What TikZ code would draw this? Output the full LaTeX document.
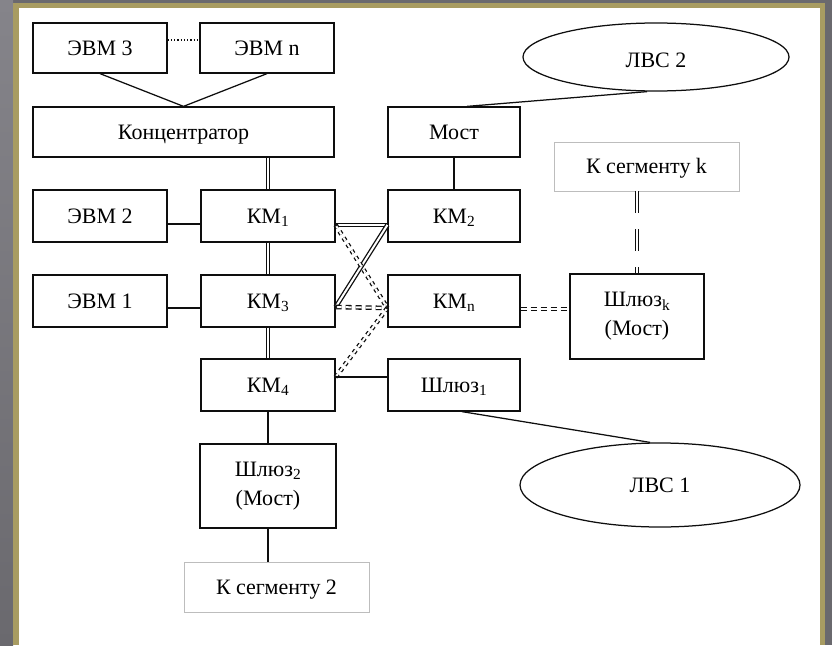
\documentclass[tikz,border=0pt]{standalone}
\usepackage{fontspec}
\setmainfont{Liberation Serif}
\definecolor{bggray}{HTML}{6A696E}
\definecolor{bglight}{HTML}{85848A}
\definecolor{gold}{HTML}{A89C62}
\definecolor{ink}{HTML}{0E0E0E}
\definecolor{faint}{HTML}{BDBDBD}
\begin{document}
\begin{tikzpicture}[x=1pt,y=-1pt,
  frame/.style={draw=ink, line width=1.25pt, rectangle, inner sep=0pt, align=center,
    font=\fontsize{22}{29}\selectfont},
  box/.style={frame, text height=17pt, text depth=3pt},
  segbox/.style={box, draw=faint, line width=0.8pt},
  lan/.style={draw=ink, line width=1.25pt, ellipse, inner sep=0pt,
    font=\fontsize{22}{29}\selectfont, text height=17pt, text depth=3pt},
  wire/.style={draw=ink, line width=1.25pt},
  dwire/.style={draw=ink, line width=1.3pt, double=white, double distance=2pt},
  ddash/.style={dwire, dash pattern=on 3.5pt off 4pt},
  dhdash/.style={dwire, dash pattern=on 6pt off 4pt},
  dldash/.style={dwire, dash pattern=on 22pt off 16pt},
  jdot/.style={fill=ink}
]
\usetikzlibrary{shapes.geometric}
% background
\fill[bggray] (0,0) rectangle (832,645);
\shade[top color=bglight, bottom color=bggray] (0,0) rectangle (13,645);
\fill[gold] (13,3) rectangle (825,645);
\fill[white] (19,8) rectangle (820,645);
\useasboundingbox (0,0) rectangle (832,645);

% nodes
\node[box, minimum width=134pt, minimum height=50pt] (evm3) at (100,48) {ЭВМ 3};
\node[box, minimum width=134pt, minimum height=50pt] (evmn) at (267,48) {ЭВМ n};
\node[box, minimum width=301pt, minimum height=50pt] (konc) at (183.5,132) {Концентратор};
\node[box, minimum width=132pt, minimum height=50pt] (most) at (454,132) {Мост};
\node[lan, minimum width=266pt, minimum height=68pt, text height=21pt, text depth=-1pt] (lvs2) at (656,57) {ЛВС 2};
\node[segbox, minimum width=185pt, minimum height=49pt] (segk) at (646.5,166.5) {К сегменту k};

\node[box, minimum width=134pt, minimum height=52pt] (evm2) at (100,216) {ЭВМ 2};
\node[box, minimum width=134pt, minimum height=52pt] (km1) at (268,216) {КМ\textsubscript{1}};
\node[box, minimum width=132pt, minimum height=52pt] (km2) at (454,216) {КМ\textsubscript{2}};

\node[box, minimum width=134pt, minimum height=52pt] (evm1) at (100,301) {ЭВМ 1};
\node[box, minimum width=134pt, minimum height=52pt] (km3) at (268,301) {КМ\textsubscript{3}};
\node[box, minimum width=132pt, minimum height=52pt] (kmn) at (454,301) {КМ\textsubscript{n}};
\node[frame, minimum width=134pt, minimum height=85pt] (shk) at (637,316.5) {Шлюз\textsubscript{k}\\(Мост)};

\node[box, minimum width=134pt, minimum height=52pt] (km4) at (268,385) {КМ\textsubscript{4}};
\node[box, minimum width=132pt, minimum height=52pt] (sh1) at (454,385) {Шлюз\textsubscript{1}};
\node[lan, minimum width=280pt, minimum height=84pt] (lvs1) at (660,485) {ЛВС 1};

\node[frame, minimum width=136pt, minimum height=84pt] (sh2) at (268,486) {Шлюз\textsubscript{2}\\(Мост)};
\node[segbox, minimum width=185pt, minimum height=50pt] (seg2) at (276.5,587) {К сегменту 2};

% junction coordinates
\coordinate (p1) at ([yshift=-9pt]km1.east);
\coordinate (q2) at ([yshift=-9pt]km2.west);
\coordinate (p3) at ([yshift=-6pt]km3.east);
\coordinate (qn) at ([yshift=-7pt]kmn.west);
\coordinate (p4) at ([yshift=8pt]km4.east);
\coordinate (q1) at ([yshift=8pt]sh1.west);

% top connectors
\draw[wire, dotted] ([yshift=8pt]evm3.east) -- ([yshift=8pt]evmn.west);
\draw[wire] (evm3.south) -- (konc.north);
\draw[wire] (evmn.south) -- (konc.north);
\draw[wire] ([xshift=13pt]most.north) -- ([xshift=-9pt]lvs2.south);
\draw[wire] (most.south) -- (km2.north);

% spine
\draw[dwire] (km1.north |- konc.south) -- (km1.north);
\draw[dwire] (km1.south) -- (km3.north);
\draw[dwire] (km3.south) -- (km4.north);
\draw[wire] (km4.south) -- (sh2.north);
\draw[wire] (sh2.south) -- (sh2.south |- seg2.north);

% side computers
\draw[wire] ([yshift=-8pt]evm2.east) -- ([yshift=-8pt]km1.west);
\draw[wire] ([yshift=-7pt]evm1.east) -- ([yshift=-7pt]km3.west);

% cross links
\draw[dwire] (p1) -- (q2);
\draw[dwire] (p3) -- (q2);
\draw[ddash] (p1) -- (qn);
\draw[dhdash] (p3) -- (qn);
\draw[ddash] (p4) -- (qn);
\draw[wire] (p4) -- (q1);
\foreach \c in {p1,p3,p4,qn} \fill[jdot] (\c) circle (1.8pt);

% gateways
\draw[dhdash] ([yshift=-8pt]kmn.east) -- ([yshift=-8pt]kmn.east -| shk.west);
\draw[dldash] (shk.north |- segk.south) -- (shk.north);
\draw[wire] ([xshift=8pt]sh1.south) -- ([xshift=-10pt]lvs1.north);
\end{tikzpicture}
\end{document}
